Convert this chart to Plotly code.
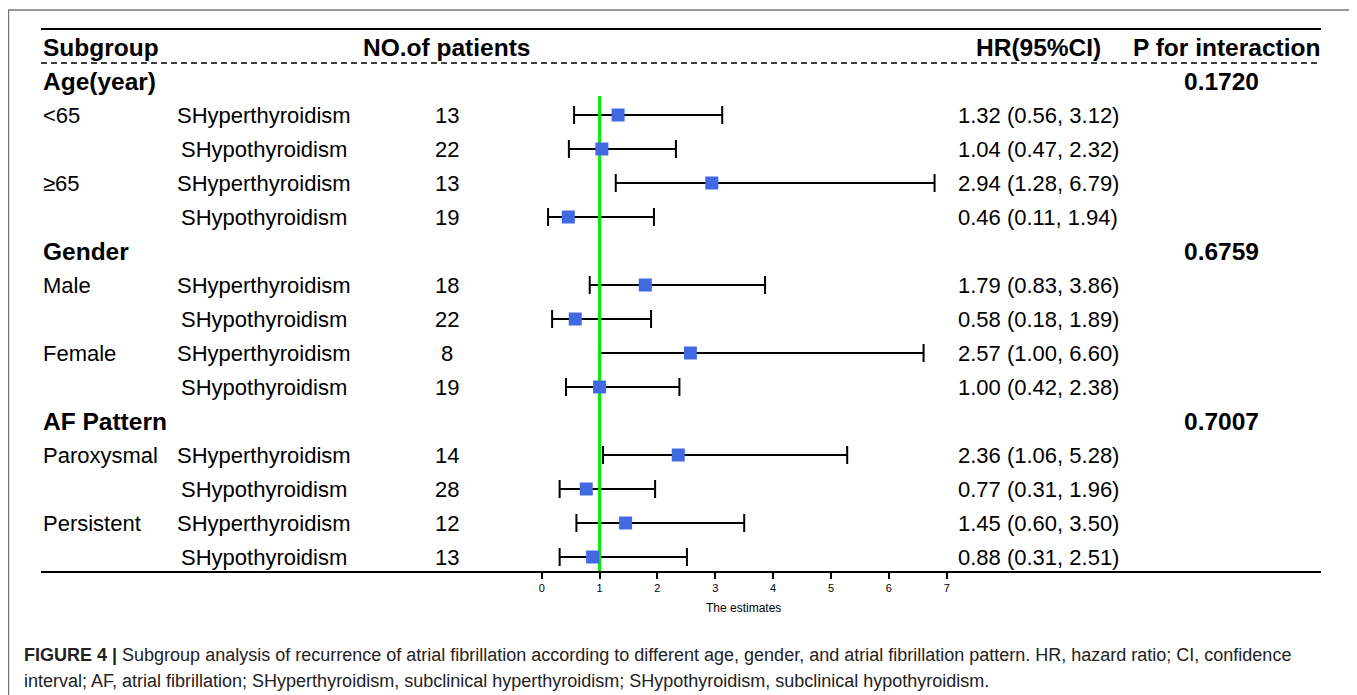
import plotly.graph_objects as go

# The page body has an 8px margin, so the figure is drawn 8px in from the
# window's corner; all pixel positions below are window pixels.
OFF = 8
W, H = 1357 - OFF, 695 - OFF

# ---------------- data ----------------
groups = ["Age(year)", "Gender", "AF Pattern"]
group_p = ["0.1720", "0.6759", "0.7007"]
subgroups = ["<65", "", "≥65", "", "Male", "", "Female", "",
             "Paroxysmal", "", "Persistent", ""]
thyroid = ["SHyperthyroidism", "SHypothyroidism"] * 6
n_patients = [13, 22, 13, 19, 18, 22, 8, 19, 14, 28, 12, 13]
hr = [1.32, 1.04, 2.94, 0.46, 1.79, 0.58, 2.57, 1.00, 2.36, 0.77, 1.45, 0.88]
ci_low = [0.56, 0.47, 1.28, 0.11, 0.83, 0.18, 1.00, 0.42, 1.06, 0.31, 0.60, 0.31]
ci_high = [3.12, 2.32, 6.79, 1.94, 3.86, 1.89, 6.60, 2.38, 5.28, 1.96, 3.50, 2.51]
tick_vals = [0, 1, 2, 3, 4, 5, 6, 7]
ref_value = 1

# ---------------- layout helpers (window pixels) ----------------
X0_PX, UNIT_PX = 541.7, 57.86          # window pixel of x=0 and px per unit
ROW0_PX, ROW_PX = 47, 34               # window pixel of header row and row height
BOTTOM_PX = 572

x_range = [-(X0_PX - OFF) / UNIT_PX, (W - (X0_PX - OFF)) / UNIT_PX]
y_top = (OFF - ROW0_PX) / ROW_PX
y_bot = (BOTTOM_PX - ROW0_PX) / ROW_PX


def px(xp):
    return (xp - OFF) / W


def py(yp):
    return 1 - (yp - OFF) / H


def row_of(yp):
    return (yp - ROW0_PX) / ROW_PX


data_rows = []
group_rows = []
r = 1
for g in range(3):
    group_rows.append(r)
    r += 1
    for k in range(4):
        data_rows.append(r)
        r += 1

FONT = "Liberation Sans, Arial, sans-serif"
REG = 22
BOLD = 24.5

fig = go.Figure()

# error bars (line only)
fig.add_trace(go.Scatter(
    x=hr, y=data_rows, mode="markers",
    marker=dict(size=1, color="rgba(0,0,0,0)"),
    error_x=dict(type="data", symmetric=False,
                 array=[h - m for h, m in zip(ci_high, hr)],
                 arrayminus=[m - l for m, l in zip(hr, ci_low)],
                 color="black", thickness=2, width=9),
    hoverinfo="skip", showlegend=False))

# reference line
fig.add_trace(go.Scatter(
    x=[ref_value, ref_value], y=[row_of(96), y_bot], mode="lines",
    line=dict(color="#00ee00", width=3), hoverinfo="skip", showlegend=False))

# squares
fig.add_trace(go.Scatter(
    x=hr, y=data_rows, mode="markers",
    marker=dict(symbol="square", size=13, color="#4169E1"),
    showlegend=False))

ann = []


def add_text(text, xp, yrow, size=REG, bold=False, anchor="left", color="black"):
    ann.append(dict(text=f"<b>{text}</b>" if bold else text,
                    x=px(xp), xref="paper", y=yrow, yref="y",
                    xanchor=anchor, yanchor="middle", showarrow=False,
                    font=dict(family=FONT, size=size, color=color)))


# header
add_text("Subgroup", 41, 0, BOLD, True)
add_text("NO.of patients", 447, 0, BOLD, True, "center")
add_text("HR(95%CI)", 1038, 0, BOLD, True, "center")
add_text("P for interaction", 1226, 0, BOLD, True, "center")

for g, gr, p in zip(groups, group_rows, group_p):
    add_text(g, 41, gr, BOLD, True)
    add_text(p, 1221, gr, BOLD, True, "center")

for i, rr in enumerate(data_rows):
    if subgroups[i]:
        add_text(subgroups[i], 41, rr)
    add_text(thyroid[i], 264, rr, anchor="center")
    add_text(str(n_patients[i]), 447, rr, anchor="center")
    add_text(f"{hr[i]:.2f} ({ci_low[i]:.2f}, {ci_high[i]:.2f})", 1038, rr, anchor="center")

# axis title
ann.append(dict(text="The estimates", x=px(743), xref="paper", y=py(608), yref="paper",
                xanchor="center", yanchor="middle", showarrow=False,
                font=dict(family=FONT, size=12, color="black")))

# caption
CAP = "#222222"
ann.append(dict(text="<b>FIGURE 4 |</b> Subgroup analysis of recurrence of atrial fibrillation according to different age, gender, and atrial fibrillation pattern. HR, hazard ratio; CI, confidence",
                x=px(22), xref="paper", y=py(655), yref="paper",
                xanchor="left", yanchor="middle", showarrow=False,
                font=dict(family=FONT, size=18, color=CAP)))
ann.append(dict(text="interval; AF, atrial fibrillation; SHyperthyroidism, subclinical hyperthyroidism; SHypothyroidism, subclinical hypothyroidism.",
                x=px(22), xref="paper", y=py(681), yref="paper",
                xanchor="left", yanchor="middle", showarrow=False,
                font=dict(family=FONT, size=18, color=CAP)))

shapes = [
    # frame
    dict(type="rect", xref="paper", yref="paper", x0=px(8.5), x1=px(1354), y0=py(720), y1=py(10),
         line=dict(color="#777777", width=1.5)),
    # top solid line
    dict(type="line", xref="paper", yref="paper", x0=px(41), x1=px(1321), y0=py(29), y1=py(29),
         line=dict(color="black", width=2)),
    # dashed line
    dict(type="line", xref="paper", yref="paper", x0=px(41), x1=px(1321), y0=py(63), y1=py(63),
         line=dict(color="black", width=1.3, dash="6px,4px")),
    # bottom solid line
    dict(type="line", xref="paper", yref="paper", x0=px(41), x1=px(1321), y0=py(BOTTOM_PX), y1=py(BOTTOM_PX),
         line=dict(color="black", width=2)),
]

fig.update_layout(
    width=W, height=H, margin=dict(l=0, r=0, t=0, b=0),
    paper_bgcolor="white", plot_bgcolor="rgba(0,0,0,0)",
    xaxis=dict(range=x_range, tickvals=tick_vals, ticks="outside", ticklen=6,
               tickwidth=1.5, tickcolor="black", showline=False, showgrid=False,
               zeroline=False, tickfont=dict(family=FONT, size=11, color="black"),
               fixedrange=True),
    yaxis=dict(range=[y_bot, y_top], domain=[1 - (BOTTOM_PX - OFF) / H, 1], visible=False,
               showgrid=False, zeroline=False, fixedrange=True),
    annotations=ann, shapes=shapes, showlegend=False,
)

fig.write_html("out.html")
